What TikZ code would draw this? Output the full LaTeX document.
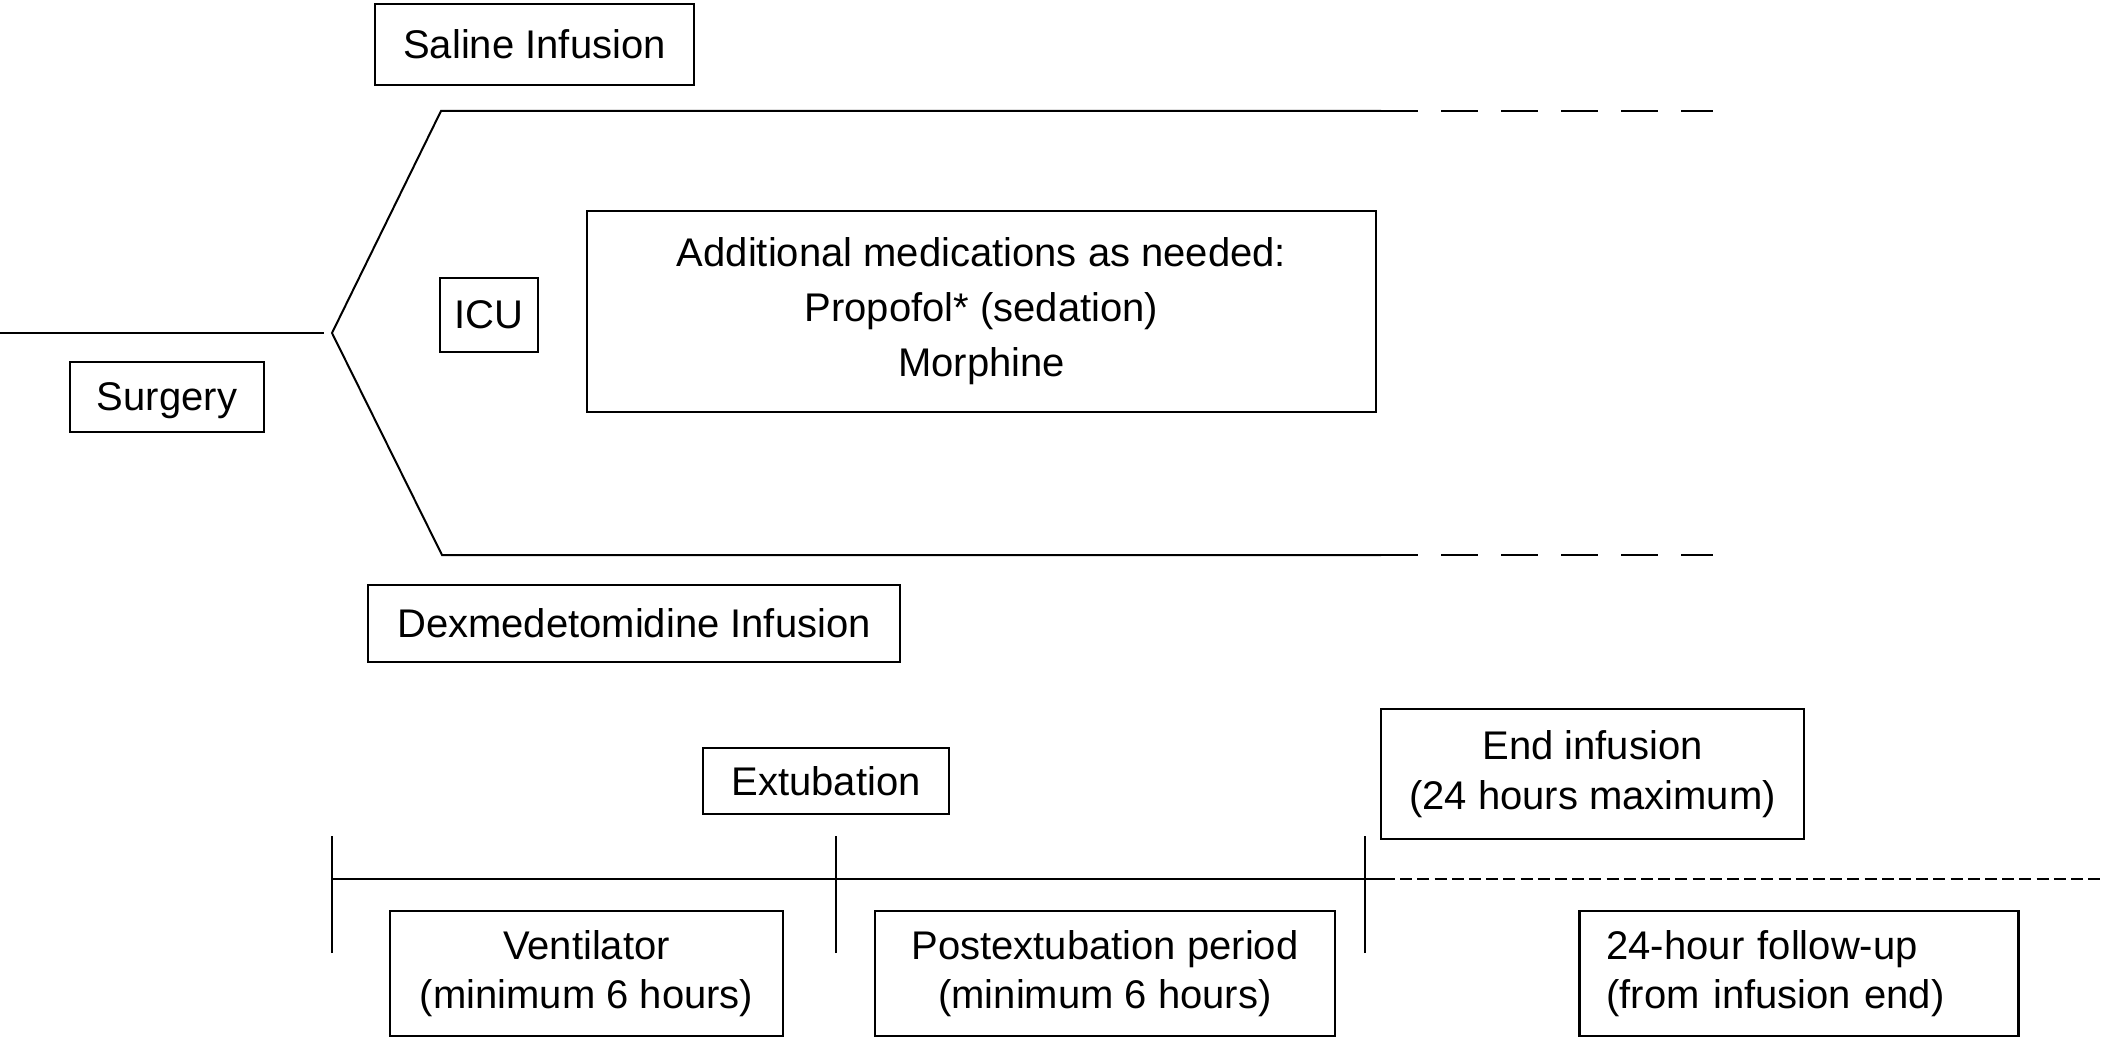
\documentclass[tikz,border=0pt]{standalone}
\usepackage{fontspec}
\setmainfont{Liberation Sans}
\begin{document}
\begin{tikzpicture}[x=0.5pt,y=-0.5pt,
  box/.style={draw, line width=1.1pt, inner sep=0pt, align=center,
    font=\fontsize{20pt}{24.5pt}\selectfont},
  ln/.style={line width=1pt},
  bigdash/.style={line width=1.1pt, dash pattern=on 18.5pt off 11.5pt},
  smalldash/.style={line width=1pt, dash pattern=on 6pt off 2.6pt}]
\useasboundingbox (0,0) rectangle (2105,1038);

% boxes
\node[box, minimum width=159.5pt, minimum height=40.5pt] (saline) at (534.5,44.5) {Saline Infusion};
\node[box, minimum width=97pt, minimum height=35pt, text depth=0pt] (surgery) at (167,397) {Surgery};
\node[box, minimum width=49pt, minimum height=37pt] (icu) at (489,315) {ICU};
\node[box, minimum width=394.5pt, minimum height=100.5pt,
  font=\fontsize{20pt}{27.5pt}\selectfont] (meds) at (981.5,311.5)
  {Additional medications as needed:\\Propofol* (sedation)\\Morphine};
\node[box, minimum width=266pt, minimum height=38.5pt] (dex) at (634,623.5) {Dexmedetomidine Infusion};
\node[box, minimum width=123pt, minimum height=33pt] (extub) at (826,781) {Extubation};
\node[box, minimum width=211.5pt, minimum height=65pt,
  font=\fontsize{20pt}{25pt}\selectfont] (endinf) at (1592.5,774) {End infusion\\(24 hours maximum)};
\node[box, minimum width=196.5pt, minimum height=62.5pt] (vent) at (586.5,973.5) {Ventilator\\(minimum 6 hours)};
\node[box, minimum width=230pt, minimum height=62.5pt] (postex) at (1105,973.5) {Postextubation period\\(minimum 6 hours)};
\node[box, minimum height=62.5pt, text width=192.5pt, inner xsep=13.5pt, align=left] (follow) at (1799,973.5) {24-hour follow-up\\(from infusion end)};

% branch lines
\coordinate (s0) at (0,333);
\coordinate (s1) at (324,333);
\coordinate (v) at (332,333);
\coordinate (u1) at (441,111);
\coordinate (u2) at (1381,111);
\coordinate (u3) at (1713,111);
\coordinate (l1) at (442,555);
\coordinate (l2) at (1381,555);
\coordinate (l3) at (1713,555);
\draw[ln] (s0) -- (s1);
\draw[ln, line join=miter] (u2) -- (u1) -- (v) -- (l1) -- (l2);
\draw[bigdash] (u2) -- (u3);
\draw[bigdash] (l2) -- (l3);

% timeline
\coordinate (t0) at (332,879);
\coordinate (t1) at (836,879);
\coordinate (t2) at (1365,879);
\coordinate (t3) at (1383,879);
\coordinate (t4) at (2105,879);
\draw[ln] (t0) -- (t3);
\draw[smalldash] (t3) -- (t4);
\foreach \c in {t0,t1,t2}
  \draw[line width=0.8pt] ([yshift=-37pt]\c) -- ([yshift=21.5pt]\c);
\end{tikzpicture}
\end{document}
